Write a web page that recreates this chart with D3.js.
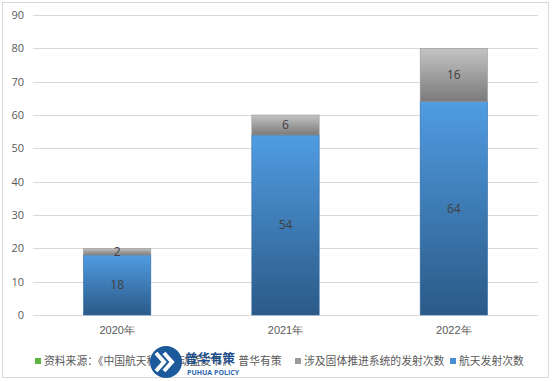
<!DOCTYPE html>
<html><head><meta charset="utf-8">
<script src="https://cdn.jsdelivr.net/npm/d3@7"></script>
<style>
html,body{margin:0;padding:0;background:#fff;}
svg{display:block;font-family:"Microsoft YaHei","Noto Sans CJK SC","Noto Sans",sans-serif;}
</style></head>
<body><svg id="c" width="554" height="381"></svg>
<script>
const categories = ["2020年","2021年","2022年"];
const launchTotal = [18, 54, 64];      // 航天发射次数
const solidLaunch = [2, 6, 16];        // 涉及固体推进系统的发射次数
const yTicks = [0,10,20,30,40,50,60,70,80,90];
const legendLabels = ["资料来源：《中国航天科技活动蓝皮书》、普华有策","涉及固体推进系统的发射次数","航天发射次数"];
const legendColors = ["#5db33f","#9a9a9a","#4a8fd6"];

const svg = d3.select("#c");
const defs = svg.append("defs");
const gb = defs.append("linearGradient").attr("id","gBlue").attr("x1",0).attr("y1",0).attr("x2",0).attr("y2",1);
gb.append("stop").attr("offset","0%").attr("stop-color","#509ce2");
gb.append("stop").attr("offset","100%").attr("stop-color","#2b5a87");
const gg = defs.append("linearGradient").attr("id","gGray").attr("x1",0).attr("y1",0).attr("x2",0).attr("y2",1);
gg.append("stop").attr("offset","0%").attr("stop-color","#c4c4c4");
gg.append("stop").attr("offset","100%").attr("stop-color","#7a7a7a");

// outer border
svg.append("rect").attr("x",2.5).attr("y",2.5).attr("width",546).attr("height",375)
  .attr("fill","#fff").attr("stroke","#d9d9d9");

const x = d3.scaleBand().domain(categories).range([33,538]).paddingInner(0.6).paddingOuter(0.3);
const y = d3.scaleLinear().domain([0,90]).range([315,15]);

// gridlines
svg.append("g").selectAll("line").data(yTicks).join("line")
  .attr("x1",33).attr("x2",538).attr("y1",d=>Math.round(y(d))+0.5).attr("y2",d=>Math.round(y(d))+0.5)
  .attr("stroke","#d9d9d9").attr("stroke-width",1);

// y axis labels
const yAxis = d3.axisLeft(y).tickValues(yTicks).tickSize(0).tickPadding(0);
const ya = svg.append("g").attr("transform","translate(24,0)").call(yAxis);
ya.select(".domain").remove();
ya.selectAll("text").attr("fill","#595959").style("font-size","11px").style("font-family","'Open Sans','Noto Sans',sans-serif");

// x axis labels
const xAxis = d3.axisBottom(x).tickSize(0).tickPadding(0);
const xa = svg.append("g").attr("transform","translate(0,326)").call(xAxis);
xa.select(".domain").remove();
xa.selectAll("text").attr("fill","#595959").style("font-size","11px");

// bars
const bw = x.bandwidth();
const g = svg.append("g");
categories.forEach((c,i)=>{
  const b = launchTotal[i], s = solidLaunch[i];
  g.append("rect").attr("x",x(c)).attr("width",bw)
    .attr("y",y(b)).attr("height",y(0)-y(b))
    .attr("fill","url(#gBlue)").attr("stroke","#2f6ba5").attr("stroke-width",0.6);
  g.append("rect").attr("x",x(c)).attr("width",bw)
    .attr("y",y(b+s)).attr("height",y(b)-y(b+s))
    .attr("fill","url(#gGray)").attr("stroke","#9a9a9a").attr("stroke-width",0.6);
  g.append("text").attr("x",x(c)+bw/2).attr("y",(y(0)+y(b))/2).attr("dy","0.35em")
    .attr("text-anchor","middle").attr("fill","#404040").style("font-size","12px")
    .style("font-family","'Open Sans','Noto Sans',sans-serif").text(b);
  g.append("text").attr("x",x(c)+bw/2).attr("y",(y(b)+y(b+s))/2).attr("dy","0.35em")
    .attr("text-anchor","middle").attr("fill","#404040").style("font-size","12px")
    .style("font-family","'Open Sans','Noto Sans',sans-serif").text(s);
});

// legend
const legX = [35, 295, 450];
const lg = svg.append("g");
legendLabels.forEach((t,i)=>{
  lg.append("rect").attr("x",legX[i]).attr("y",358).attr("width",6).attr("height",6).attr("fill",legendColors[i]);
  lg.append("text").attr("x",legX[i]+9).attr("y",361).attr("dy","0.35em")
    .attr("fill","#595959").style("font-size","10.8px").text(t);
});

// watermark logo
const wm = svg.append("g");
wm.append("circle").attr("cx",166).attr("cy",362).attr("r",16).attr("fill","#1d5a9c");
[0,8].forEach(dx=>{
  wm.append("path").attr("d",`M${156+dx},353 L${164+dx},362 L${156+dx},371`)
    .attr("fill","none").attr("stroke","#fff").attr("stroke-width",4).attr("stroke-linejoin","miter");
});
wm.append("text").attr("x",185).attr("y",359).attr("dy","0.35em").attr("fill","#1d4f8c")
  .style("font-size","12.5px").style("font-weight","bold").text("普华有策");
wm.append("text").attr("x",187).attr("y",373).attr("dy","0.35em").attr("fill","#2a66b0")
  .style("font-size","7px").style("font-weight","bold").style("font-family","'Open Sans',sans-serif").text("PUHUA POLICY");
</script></body></html>
